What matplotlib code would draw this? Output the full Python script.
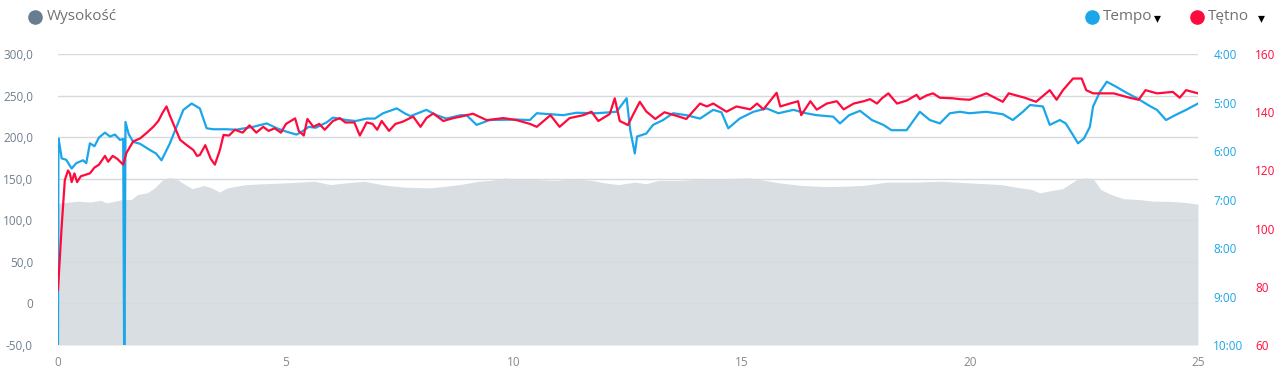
import numpy as np
import matplotlib.pyplot as plt
from matplotlib.lines import Line2D
from matplotlib.ticker import FuncFormatter

plt.rcParams['font.family'] = ['Open Sans', 'DejaVu Sans']

# Elevation (m) along distance (km)
elev_km = [0, 0.07, 0.27, 0.44, 0.7, 0.94, 1.07, 1.25, 1.4, 1.61, 1.74, 1.95, 2.12, 2.28,
           2.4, 2.53, 2.65, 2.79, 2.95, 3.2, 3.37, 3.54, 3.71, 3.9, 4.13, 4.5, 4.96, 5.3,
           5.63, 5.97, 6.3, 6.72, 7.0, 7.22, 7.6, 8.14, 8.5, 8.81, 9.23, 9.5, 9.82, 10.1,
           10.49, 10.9, 11.32, 11.7, 12.0, 12.3, 12.65, 12.9, 13.16, 13.6, 13.99, 14.5,
           15.17, 15.5, 15.83, 16.3, 16.84, 17.2, 17.67, 18.18, 18.8, 19.35, 20.0, 20.69,
           21.0, 21.36, 21.53, 21.8, 22.03, 22.2, 22.37, 22.55, 22.7, 22.87, 23.1, 23.37,
           23.7, 24.04, 24.3, 24.63, 24.8, 25.0]
elev = [120, 121, 122, 123, 122, 124, 121, 123, 125, 125, 131, 133, 139, 148, 151, 151,
        148, 143, 138, 142, 139, 134, 139, 141, 143, 144, 145, 146, 147, 143, 145, 147,
        144, 142, 140, 139, 141, 143, 147, 148, 151, 149, 149, 148, 150, 148, 145, 143,
        146, 144, 148, 148, 149, 150, 151, 148, 145, 142, 140.5, 141, 142, 146, 146, 147,
        145, 143, 140, 137, 133, 136, 138, 144, 150, 151, 150, 137, 131, 126, 125, 123,
        123, 122, 121, 119.5]

# Pace (min/km, decimal)
pace_km = [0.0, 0.01, 0.04, 0.08, 0.18, 0.3, 0.4, 0.55, 0.62, 0.7, 0.8, 0.9, 1.03, 1.14,
           1.25, 1.36, 1.43, 1.45, 1.46, 1.48, 1.55, 1.65, 1.8, 2.02, 2.15, 2.27, 2.45,
           2.6, 2.75, 2.93, 3.11, 3.26, 3.4, 3.7, 3.9, 4.28, 4.58, 4.8, 5.01, 5.23, 5.35,
           5.5, 5.65, 5.89, 6.03, 6.33, 6.53, 6.77, 6.95, 7.13, 7.43, 7.6, 7.73, 8.08,
           8.3, 8.52, 8.83, 8.96, 9.18, 9.47, 10.06, 10.35, 10.5, 11.08, 11.37, 11.81,
           12.25, 12.47, 12.55, 12.65, 12.7, 12.9, 13.05, 13.27, 13.49, 13.78, 14.08,
           14.37, 14.55, 14.7, 14.95, 15.25, 15.54, 15.8, 16.13, 16.4, 16.64, 17.0, 17.15,
           17.35, 17.59, 17.85, 18.1, 18.28, 18.61, 18.9, 19.12, 19.34, 19.56, 19.78,
           19.99, 20.36, 20.72, 20.94, 21.16, 21.32, 21.6, 21.75, 21.97, 22.1, 22.26,
           22.37, 22.5, 22.63, 22.7, 22.85, 23.0, 23.2, 23.4, 23.66, 23.96, 24.1, 24.3,
           24.5, 24.74, 25.0]
pace = [10.0, 5.74, 5.9, 6.15, 6.18, 6.36, 6.25, 6.19, 6.25, 5.84, 5.9, 5.72, 5.62, 5.7,
        5.66, 5.77, 5.75, 10.0, 10.0, 5.4, 5.65, 5.81, 5.85, 5.98, 6.05, 6.19, 5.85, 5.5,
        5.15, 5.02, 5.12, 5.53, 5.55, 5.55, 5.56, 5.5, 5.43, 5.53, 5.6, 5.66, 5.6, 5.5,
        5.52, 5.41, 5.31, 5.36, 5.38, 5.33, 5.33, 5.22, 5.12, 5.22, 5.28, 5.15, 5.26,
        5.33, 5.26, 5.26, 5.46, 5.36, 5.35, 5.36, 5.22, 5.26, 5.21, 5.22, 5.19, 4.91,
        5.57, 6.05, 5.7, 5.64, 5.46, 5.36, 5.22, 5.26, 5.33, 5.15, 5.2, 5.53, 5.33, 5.19,
        5.12, 5.22, 5.15, 5.22, 5.26, 5.29, 5.43, 5.26, 5.17, 5.36, 5.46, 5.57, 5.57,
        5.19, 5.36, 5.43, 5.22, 5.19, 5.22, 5.19, 5.24, 5.36, 5.19, 5.05, 5.08, 5.46,
        5.36, 5.43, 5.67, 5.84, 5.74, 5.5, 5.08, 4.78, 4.57, 4.67, 4.78, 4.91, 5.08, 5.15,
        5.36, 5.26, 5.15, 5.02]

# Heart rate (bpm)
hr_km = [0.0, 0.04, 0.08, 0.15, 0.22, 0.26, 0.3, 0.36, 0.42, 0.5, 0.6, 0.7, 0.8, 0.9,
         1.03, 1.1, 1.2, 1.3, 1.43, 1.5, 1.65, 1.8, 1.95, 2.09, 2.2, 2.3, 2.38, 2.45,
         2.53, 2.68, 2.8, 2.97, 3.05, 3.11, 3.23, 3.35, 3.44, 3.55, 3.63, 3.75, 3.88,
         4.05, 4.2, 4.35, 4.5, 4.62, 4.75, 4.89, 5.0, 5.2, 5.28, 5.39, 5.47, 5.6, 5.73,
         5.85, 6.03, 6.18, 6.3, 6.5, 6.62, 6.77, 6.9, 7.0, 7.1, 7.26, 7.4, 7.55, 7.79,
         7.95, 8.08, 8.23, 8.45, 8.67, 8.83, 9.1, 9.4, 9.77, 10.06, 10.35, 10.5, 10.8,
         11.0, 11.22, 11.52, 11.7, 11.85, 12.1, 12.21, 12.32, 12.5, 12.6, 12.76, 12.9,
         13.1, 13.3, 13.56, 13.78, 14.08, 14.23, 14.37, 14.66, 14.88, 15.18, 15.33,
         15.47, 15.76, 15.84, 16.05, 16.23, 16.3, 16.5, 16.64, 16.86, 17.08, 17.23,
         17.45, 17.67, 17.81, 17.96, 18.07, 18.21, 18.4, 18.61, 18.83, 18.9, 19.05,
         19.19, 19.34, 19.63, 19.78, 19.99, 20.36, 20.72, 20.85, 21.2, 21.45, 21.75,
         21.9, 22.04, 22.26, 22.45, 22.55, 22.7, 23.15, 23.5, 23.7, 23.85, 24.1, 24.45,
         24.6, 24.74, 25.0]
hr = [79, 90, 100.6, 116.7, 120, 119, 116, 119, 116, 118, 118.5, 119, 121, 122, 125, 123,
      125, 124, 122, 126, 130, 131, 133, 135, 137, 140, 142, 139, 136, 130.5, 129, 127,
      125, 125.3, 128.7, 124, 122, 127, 132.2, 132, 134, 133, 135.5, 133, 135, 133.6,
      134.5, 133, 136, 137.9, 133.6, 132, 137.7, 135, 136, 134, 137, 138, 136.5, 136.5,
      132, 136.5, 136, 134, 137, 133.6, 136, 136.7, 138.5, 135, 138, 139.6, 137, 138,
      138.5, 139.5, 137.3, 138, 137.3, 136, 135, 139, 135, 138, 139, 140.2, 137, 139.4,
      144.8, 137, 135.6, 138.8, 143.6, 140.3, 137.7, 140, 138.8, 137.7, 143, 142, 143,
      140.2, 142, 141, 143, 141, 146.7, 142, 143, 143.8, 139, 143.8, 140.9, 143, 143.8,
      141, 143, 143.8, 144.5, 143, 144.8, 146.5, 143, 144, 146, 144.5, 145.8, 146.5,
      145, 144.8, 144.5, 144.3, 146.5, 143.6, 146.5, 145, 143.6, 147.6, 144.3, 147.6,
      151.6, 151.6, 147.6, 146.5, 146.5, 145, 144.3, 147.6, 146.5, 147, 145, 147.6, 146.5]

gray_txt = '#6f7f8e'
blue = '#1ba6ea'
red = '#ff0a3c'

fig = plt.figure(figsize=(12.8, 3.73), dpi=100)
ax = fig.add_axes([0.0453, 0.075, 0.8906, 0.78])

ax.fill_between(elev_km, -50, elev, color='#d9dee2', lw=0, zorder=1)
ax.set_xlim(0, 25)
ax.set_ylim(-50, 300)
ax.set_yticks([-50, 0, 50, 100, 150, 200, 250, 300])
ax.yaxis.set_major_formatter(FuncFormatter(lambda v, p: '0' if v == 0 else f'{v:.1f}'.replace('.', ',')))
ax.set_xticks([0, 5, 10, 15, 20, 25])
ax.grid(axis='y', color='#d6d9dd', lw=1, zorder=2)
ax.set_axisbelow(False)
for s in ax.spines.values():
    s.set_visible(False)
ax.tick_params(axis='y', length=0, pad=18, labelsize=8.5, labelcolor=gray_txt)
ax.tick_params(axis='x', length=0, pad=8, labelsize=8.5, labelcolor='#888888')

ax2 = ax.twinx()
ax2.plot(pace_km, pace, color=blue, lw=1.6, solid_joinstyle='round')
ax2.set_ylim(10, 4)
ax2.set_yticks([4, 5, 6, 7, 8, 9, 10])
ax2.yaxis.set_major_formatter(FuncFormatter(lambda v, p: f'{int(v)}:00'))
ax2.tick_params(axis='y', length=0, pad=11, labelsize=8.5, labelcolor=blue)
for s in ax2.spines.values():
    s.set_visible(False)

ax3 = ax.twinx()
ax3.plot(hr_km, hr, color=red, lw=1.6, solid_joinstyle='round')
ax3.set_ylim(60, 160)
ax3.set_yticks([60, 80, 100, 120, 140, 160])
ax3.tick_params(axis='y', length=0, pad=41, labelsize=8.5, labelcolor=red)
for s in ax3.spines.values():
    s.set_visible(False)

# legend
def dot(x, color):
    fig.add_artist(Line2D([x], [0.955], marker='o', markersize=9.5, color=color,
                          transform=fig.transFigure))

dot(0.0277, '#687d8f')
fig.text(0.0367, 0.955, 'Wysokość', color='#717171', fontsize=11, va='center')
dot(0.853, blue)
fig.text(0.862, 0.955, 'Tempo', color='#717171', fontsize=11, va='center')
fig.text(0.9015, 0.95, '▾', color='black', fontsize=10, va='center', family=['DejaVu Sans'])
dot(0.935, red)
fig.text(0.944, 0.955, 'Tętno', color='#717171', fontsize=11, va='center')
fig.text(0.983, 0.95, '▾', color='black', fontsize=10, va='center', family=['DejaVu Sans'])

fig.savefig('out.png', dpi=100)
